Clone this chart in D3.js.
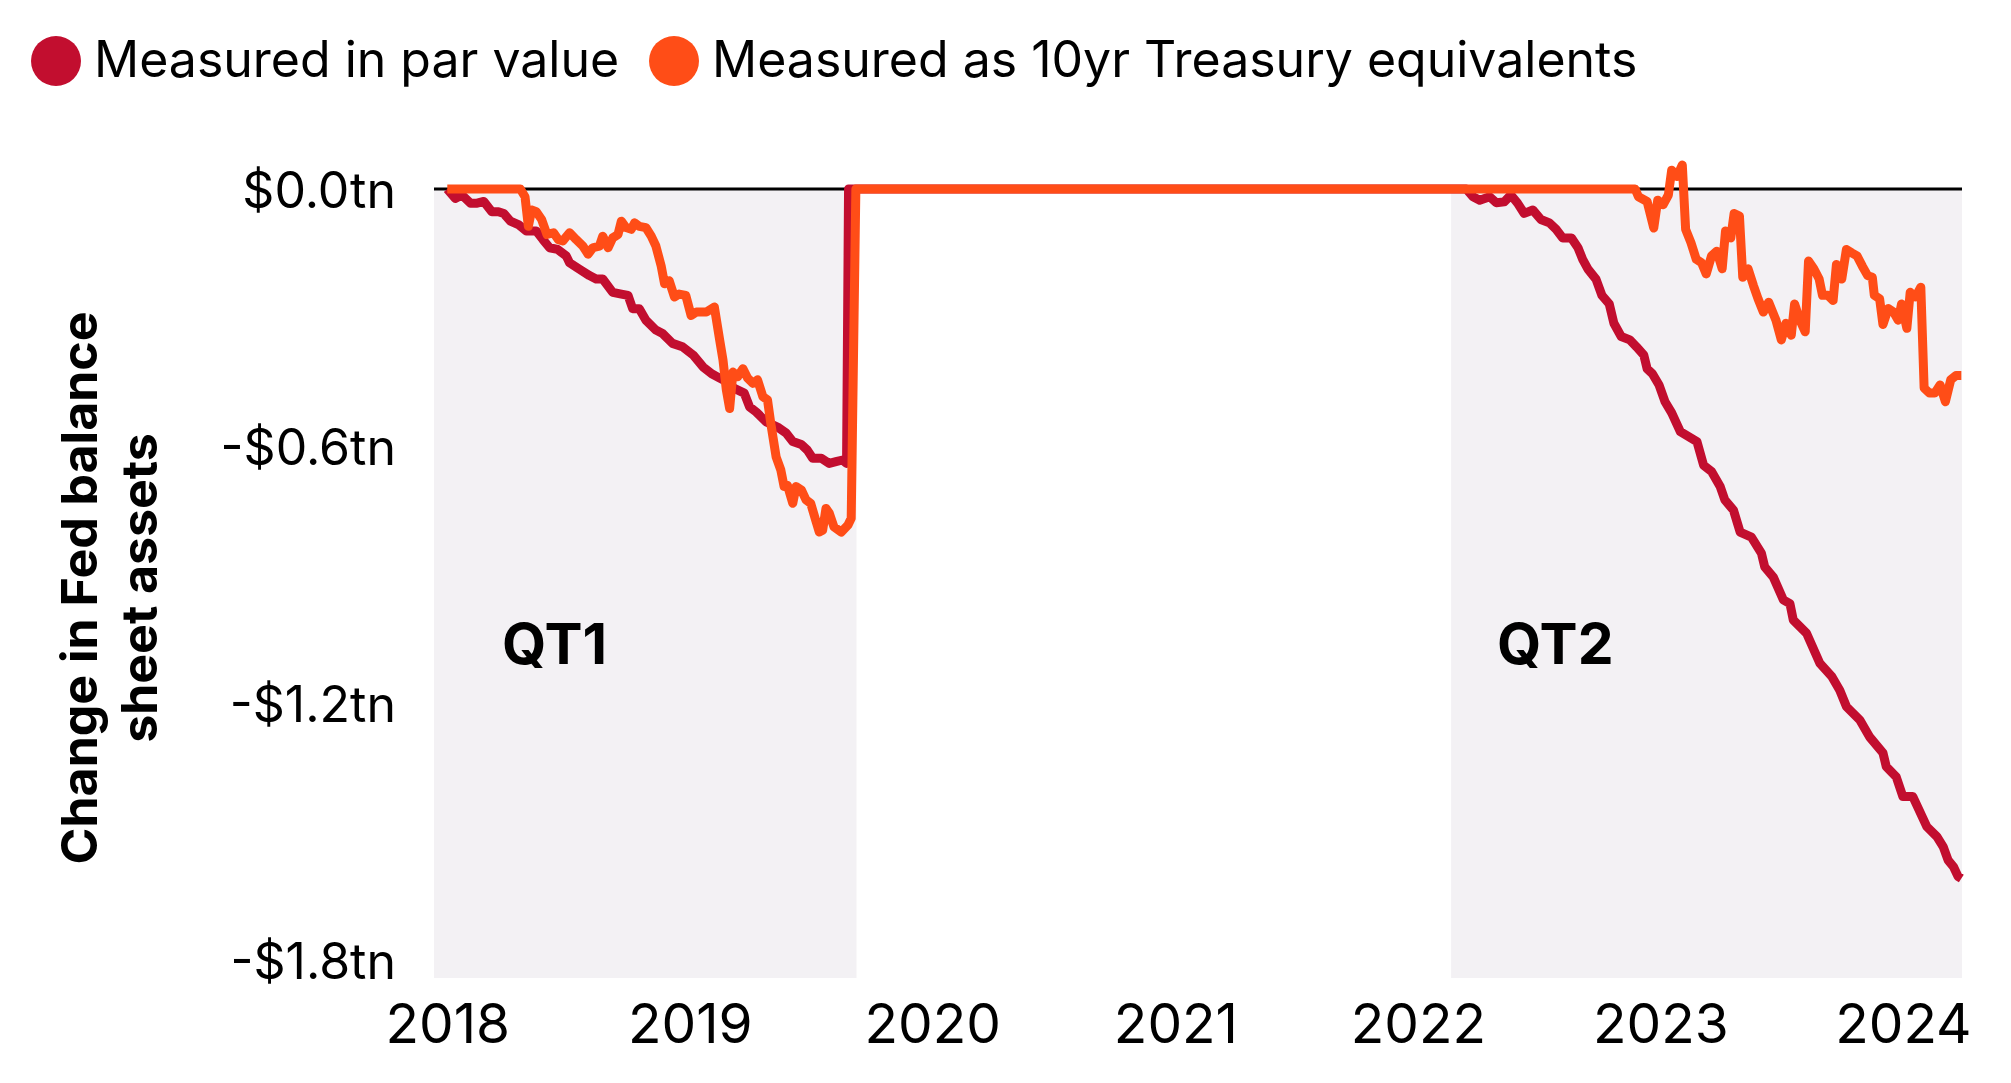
<!DOCTYPE html>
<html><head><meta charset="utf-8">
<script src="https://cdn.jsdelivr.net/npm/d3@7"></script>
<style>
body{margin:0;background:#fff}
text{font-family:Inter,"Noto Sans",sans-serif;fill:#000}
</style>
</head><body><svg id="c" width="2011" height="1083"></svg>
<script>
const seriesNames = ["Measured in par value", "Measured as 10yr Treasury equivalents"];
const seriesColors = ["#c20e2f", "#ff4d17"];

const parValue = [
["2018-01-01",0],["2018-01-13",-0.022],["2018-01-23",-0.014],["2018-02-05",-0.033],["2018-02-15",-0.033],
["2018-02-25",-0.029],["2018-03-09",-0.053],["2018-03-19",-0.053],["2018-03-27",-0.057],["2018-04-06",-0.075],
["2018-04-18",-0.083],["2018-04-30",-0.098],["2018-05-15",-0.098],["2018-05-25",-0.118],["2018-06-04",-0.137],
["2018-06-16",-0.141],["2018-06-29",-0.156],["2018-07-04",-0.172],["2018-07-19",-0.187],["2018-08-03",-0.202],
["2018-08-13",-0.210],["2018-08-23",-0.210],["2018-09-07",-0.241],["2018-09-20",-0.245],["2018-09-30",-0.248],
["2018-10-07",-0.279],["2018-10-17",-0.279],["2018-10-27",-0.306],["2018-11-11",-0.329],["2018-11-21",-0.337],
["2018-12-06",-0.360],["2018-12-21",-0.368],["2019-01-06",-0.387],["2019-01-21",-0.415],["2019-02-03",-0.431],
["2019-02-15",-0.441],["2019-02-25",-0.449],["2019-03-09",-0.465],["2019-03-24",-0.476],["2019-04-01",-0.508],
["2019-04-11",-0.520],["2019-04-26",-0.543],["2019-05-13",-0.555],["2019-05-26",-0.569],["2019-06-05",-0.589],
["2019-06-18",-0.596],["2019-06-27",-0.609],["2019-07-05",-0.628],["2019-07-18",-0.628],["2019-07-30",-0.640],
["2019-08-09",-0.636],["2019-08-19",-0.632],["2019-08-25",-0.640],["2019-08-28",0],
["2022-03-15",0],["2022-03-25",-0.018],["2022-04-04",-0.026],["2022-04-19",-0.018],["2022-04-29",-0.032],
["2022-05-11",-0.030],["2022-05-21",-0.014],["2022-05-31",-0.033],["2022-06-10",-0.057],["2022-06-23",-0.049],
["2022-07-05",-0.071],["2022-07-18",-0.079],["2022-07-28",-0.094],["2022-08-07",-0.114],["2022-08-20",-0.114],
["2022-08-30",-0.137],["2022-09-06",-0.164],["2022-09-14",-0.187],["2022-09-26",-0.210],["2022-10-05",-0.248],
["2022-10-16",-0.268],["2022-10-23",-0.313],["2022-11-03",-0.344],["2022-11-16",-0.352],["2022-11-26",-0.368],
["2022-12-07",-0.387],["2022-12-12",-0.419],["2022-12-20",-0.431],["2022-12-30",-0.457],["2023-01-08",-0.496],
["2023-01-18",-0.522],["2023-01-31",-0.566],["2023-02-25",-0.589],["2023-03-07",-0.644],["2023-03-19",-0.659],
["2023-04-01",-0.694],["2023-04-08",-0.725],["2023-04-21",-0.749],["2023-05-01",-0.800],["2023-05-18",-0.812],
["2023-06-02",-0.849],["2023-06-07",-0.881],["2023-06-20",-0.905],["2023-07-05",-0.958],["2023-07-15",-0.967],
["2023-07-20",-1.005],["2023-08-09",-1.036],["2023-08-29",-1.106],["2023-09-16",-1.137],["2023-09-28",-1.169],
["2023-10-08",-1.207],["2023-10-28",-1.238],["2023-11-12",-1.278],["2023-12-02",-1.315],["2023-12-07",-1.347],
["2023-12-22",-1.371],["2024-01-01",-1.417],["2024-01-16",-1.417],["2024-02-06",-1.487],["2024-02-21",-1.510],
["2024-03-02",-1.535],["2024-03-09",-1.565],["2024-03-17",-1.580],["2024-03-24",-1.603],["2024-03-29",-1.608]
];

const tenYrEquivalent = [
["2018-01-01",0],["2018-04-21",0],["2018-04-28",-0.018],["2018-05-03",-0.087],["2018-05-08",-0.049],
["2018-05-15",-0.053],["2018-05-23",-0.071],["2018-05-31",-0.106],["2018-06-10",-0.102],["2018-06-17",-0.118],
["2018-06-24",-0.121],["2018-07-04",-0.102],["2018-07-14",-0.118],["2018-07-24",-0.133],["2018-08-01",-0.152],
["2018-08-08",-0.137],["2018-08-18",-0.133],["2018-08-23",-0.110],["2018-08-31",-0.137],["2018-09-07",-0.114],
["2018-09-15",-0.106],["2018-09-20",-0.075],["2018-09-27",-0.090],["2018-10-05",-0.094],["2018-10-10",-0.079],
["2018-10-17",-0.087],["2018-10-27",-0.090],["2018-11-04",-0.110],["2018-11-11",-0.133],["2018-11-19",-0.180],
["2018-11-24",-0.221],["2018-12-01",-0.214],["2018-12-09",-0.252],["2018-12-16",-0.245],["2018-12-26",-0.248],
["2019-01-03",-0.295],["2019-01-11",-0.287],["2019-01-26",-0.287],["2019-02-07",-0.275],["2019-02-15",-0.352],
["2019-02-20",-0.399],["2019-02-25",-0.468],["2019-03-02",-0.512],["2019-03-07",-0.427],["2019-03-14",-0.438],
["2019-03-22",-0.419],["2019-03-29",-0.441],["2019-04-06",-0.453],["2019-04-13",-0.445],["2019-04-21",-0.484],
["2019-04-28",-0.492],["2019-05-03",-0.547],["2019-05-11",-0.625],["2019-05-18",-0.655],["2019-05-23",-0.694],
["2019-05-28",-0.691],["2019-06-05",-0.733],["2019-06-10",-0.694],["2019-06-18",-0.702],["2019-06-25",-0.725],
["2019-07-02",-0.733],["2019-07-10",-0.775],["2019-07-15",-0.800],["2019-07-20",-0.796],["2019-07-25",-0.745],
["2019-07-30",-0.756],["2019-08-06",-0.788],["2019-08-17",-0.800],["2019-08-27",-0.784],["2019-09-01",-0.768],
["2019-09-08",0],
["2022-11-24",0],["2022-11-29",-0.018],["2022-12-12",-0.029],["2022-12-22",-0.091],["2022-12-28",-0.026],
["2023-01-05",-0.037],["2023-01-13",-0.014],["2023-01-18",0.044],["2023-01-26",0.029],["2023-02-03",0.056],
["2023-02-08",-0.094],["2023-02-16",-0.125],["2023-02-24",-0.164],["2023-03-04",-0.172],["2023-03-11",-0.198],
["2023-03-19",-0.156],["2023-03-27",-0.145],["2023-04-04",-0.186],["2023-04-09",-0.098],["2023-04-17",-0.114],
["2023-04-22",-0.057],["2023-04-30",-0.063],["2023-05-05",-0.206],["2023-05-13",-0.186],["2023-05-21",-0.225],
["2023-05-28",-0.256],["2023-06-05",-0.287],["2023-06-13",-0.264],["2023-06-24",-0.306],["2023-07-02",-0.352],
["2023-07-09",-0.313],["2023-07-17",-0.341],["2023-07-22",-0.268],["2023-07-30",-0.306],["2023-08-07",-0.333],
["2023-08-12",-0.168],["2023-08-20",-0.186],["2023-08-28",-0.210],["2023-09-02",-0.248],["2023-09-10",-0.248],
["2023-09-18",-0.260],["2023-09-23",-0.176],["2023-10-01",-0.210],["2023-10-08",-0.141],["2023-10-16",-0.149],
["2023-10-24",-0.156],["2023-11-01",-0.180],["2023-11-09",-0.202],["2023-11-16",-0.206],["2023-11-19",-0.248],
["2023-11-27",-0.256],["2023-12-02",-0.316],["2023-12-10",-0.279],["2023-12-18",-0.287],["2023-12-25",-0.306],
["2023-12-30",-0.268],["2024-01-07",-0.325],["2024-01-12",-0.241],["2024-01-20",-0.252],["2024-01-28",-0.229],
["2024-02-02",-0.464],["2024-02-10",-0.476],["2024-02-18",-0.476],["2024-02-26",-0.457],["2024-03-05",-0.496],
["2024-03-13",-0.445],["2024-03-21",-0.435],["2024-03-29",-0.435]
];

const xTickYears = [2018, 2019, 2020, 2021, 2022, 2023, 2024];
const yTickValues = [0, -0.6, -1.2, -1.8];
const yTickLabels = ["$0.0tn", "-$0.6tn", "-$1.2tn", "-$1.8tn"];
const qtLabels = ["QT1", "QT2"];
const qtStarts = ["2017-12-12", "2022-02-20"];
const qtEnds = ["2019-09-09", "2024-03-30"];
const yAxisTitle = ["Change in Fed balance", "sheet assets"];
const xDomain = ["2017-12-12", "2024-03-30"];
const yDomain = [-1.84, 0];

const parse = d3.utcParse("%Y-%m-%d");
const svg = d3.select("#c");

const x = d3.scaleUtc().domain(xDomain.map(parse)).range([434, 1962]);
const y = d3.scaleLinear().domain(yDomain).range([978, 189]);

// shaded QT periods
svg.append("g").selectAll("rect").data(qtLabels).join("rect")
  .attr("x", (d, i) => x(parse(qtStarts[i])))
  .attr("width", (d, i) => x(parse(qtEnds[i])) - x(parse(qtStarts[i])))
  .attr("y", y(0)).attr("height", y(yDomain[0]) - y(0))
  .attr("fill", "#f3f1f4");

// QT labels
const qtLabelOffsets = [68, 46];
svg.append("g").selectAll("text").data(qtLabels).join("text")
  .attr("x", (d, i) => x(parse(qtStarts[i])) + qtLabelOffsets[i])
  .attr("y", 664)
  .attr("font-size", 57).attr("font-weight", 700)
  .text(d => d);

// zero line
svg.append("line")
  .attr("x1", x.range()[0]).attr("x2", x.range()[1])
  .attr("y1", y(0)).attr("y2", y(0))
  .attr("stroke", "#000").attr("stroke-width", 3);

// lines
const line = d3.line().x(d => x(parse(d[0]))).y(d => y(d[1]));
[parValue, tenYrEquivalent].forEach((s, i) => {
  svg.append("path").datum(s)
    .attr("d", line)
    .attr("fill", "none")
    .attr("stroke", seriesColors[i])
    .attr("stroke-width", 9)
    .attr("stroke-linejoin", "round");
});

// y axis labels
const yAxis = d3.axisLeft(y).tickValues(yTickValues)
  .tickFormat((d, i) => yTickLabels[i]).tickSize(0).tickPadding(0);
const gy = svg.append("g").attr("transform", "translate(396,0)").call(yAxis);
gy.select(".domain").remove();
gy.selectAll("text").attr("font-size", 50).attr("font-family", "Inter").attr("dy", "0.36em").attr("fill", "#000");

// x axis labels
const xAxis = d3.axisBottom(x).tickValues(xTickYears.map(yr => new Date(Date.UTC(yr, 0, 1))))
  .tickFormat(d3.utcFormat("%Y")).tickSize(0).tickPadding(0);
const gx = svg.append("g").attr("transform", "translate(0,1043)").call(xAxis);
gx.select(".domain").remove();
gx.selectAll("text").attr("font-size", 55).attr("font-family", "Inter").attr("dy", 0).attr("fill", "#000");

// y axis title
const gt = svg.append("g");
yAxisTitle.forEach((t, i) => {
  gt.append("text")
    .attr("transform", `translate(${97 + i * 60},588) rotate(-90)`)
    .attr("text-anchor", "middle")
    .attr("font-size", 50).attr("font-weight", 700)
    .text(t);
});

// legend
const legX = [56, 674];
const lg = svg.append("g");
seriesNames.forEach((n, i) => {
  lg.append("circle").attr("cx", legX[i]).attr("cy", 61).attr("r", 25).attr("fill", seriesColors[i]);
  lg.append("text").attr("x", legX[i] + 38).attr("y", 77).attr("font-size", 50).text(n);
});
</script>
</body></html>
